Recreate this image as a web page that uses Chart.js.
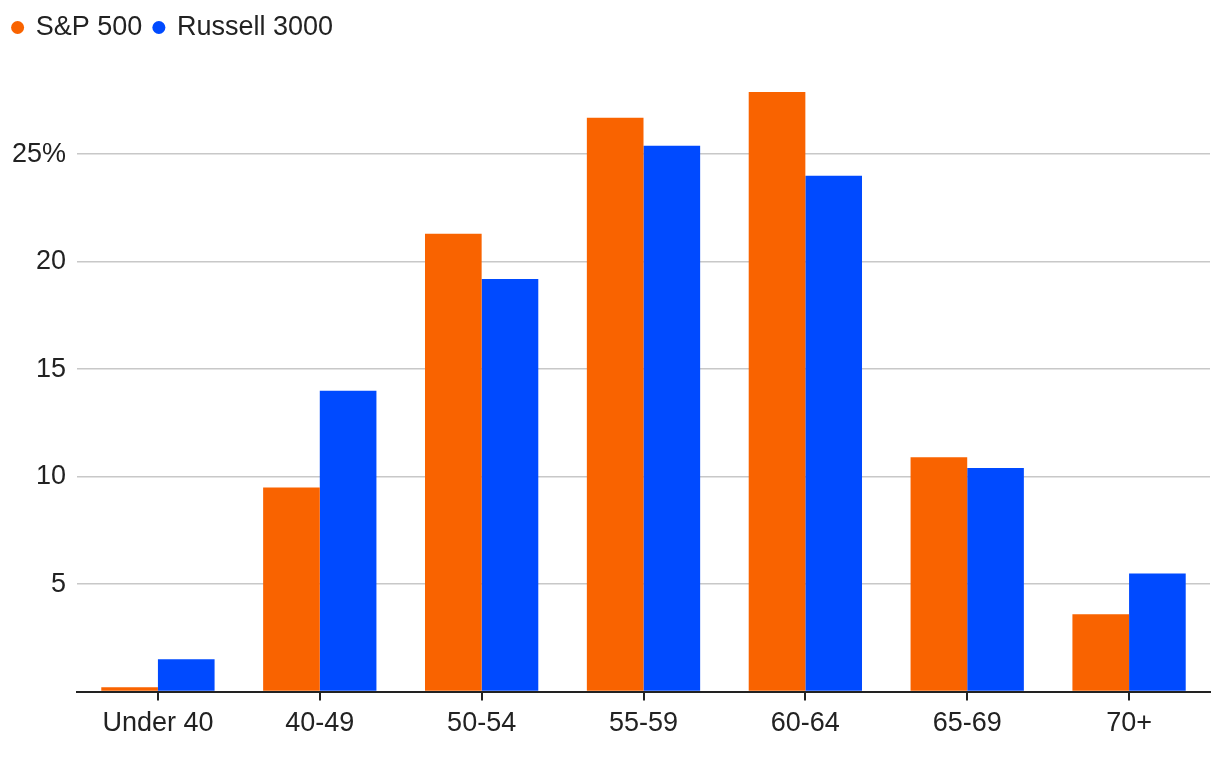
<!DOCTYPE html>
<html>
<head>
<meta charset="utf-8">
<script src="https://cdn.jsdelivr.net/npm/chart.js@4.4.0/dist/chart.umd.min.js"></script>
<style>
  html, body { margin: 0; padding: 0; background: #fff; }
  #wrap { width: 1220px; height: 760px; }
</style>
</head>
<body>
<div id="wrap"><canvas id="ageChart"></canvas></div>
<script>
// Age groups and share (%) of directors in each index
const ageGroups = ['Under 40', '40-49', '50-54', '55-59', '60-64', '65-69', '70+'];
const sp500 = [0.2, 9.5, 21.3, 26.7, 27.9, 10.9, 3.6];
const russell3000 = [1.5, 14.0, 19.2, 25.4, 24.0, 10.4, 5.5];
const yTickValues = [0, 5, 10, 15, 20, 25];
const yTickLabels = ['', '5', '10', '15', '20', '25%'];

const FONT = '"Liberation Sans", Arial, Helvetica, sans-serif';
const TEXT = '#222222';

// push the plot area down a bit below the legend
const legendGap = {
  id: 'legendGap',
  beforeInit(chart) {
    const fit = chart.legend.fit;
    chart.legend.fit = function () {
      fit.bind(chart.legend)();
      this.height += 28;
    };
  }
};

new Chart(document.getElementById('ageChart'), {
  type: 'bar',
  data: {
    labels: ageGroups,
    datasets: [
      {
        label: 'S&P 500',
        data: sp500,
        backgroundColor: '#f96300',
        categoryPercentage: 0.7,
        barPercentage: 1.0
      },
      {
        label: 'Russell 3000',
        data: russell3000,
        backgroundColor: '#004aff',
        categoryPercentage: 0.7,
        barPercentage: 1.0
      }
    ]
  },
  options: {
    responsive: true,
    maintainAspectRatio: false,
    animation: false,
    layout: {
      padding: { left: 1, right: 10, top: 2, bottom: 13 }
    },
    plugins: {
      legend: {
        position: 'top',
        align: 'start',
        labels: {
          usePointStyle: true,
          pointStyle: 'circle',
          boxWidth: 9.2,
          boxHeight: 9.2,
          padding: 12,
          color: TEXT,
          font: { family: FONT, size: 27 }
        }
      },
      tooltip: { enabled: false }
    },
    scales: {
      x: {
        grid: {
          display: true,
          drawOnChartArea: false,
          drawTicks: true,
          tickLength: 9,
          offset: false,
          color: TEXT,
          lineWidth: 2
        },
        border: { display: true, color: TEXT, width: 2 },
        ticks: {
          color: TEXT,
          padding: 7,
          font: { family: FONT, size: 27 }
        }
      },
      y: {
        min: 0,
        max: 28.5,
        afterBuildTicks: (scale) => {
          scale.ticks = yTickValues.map(v => ({ value: v }));
        },
        afterFit: (scale) => {
          scale.width = 76;
        },
        grid: {
          drawTicks: false,
          color: (ctx) => ctx.tick && ctx.tick.value === 0 ? 'rgba(0,0,0,0)' : '#c8c8c8',
          lineWidth: 1.5
        },
        border: { display: false },
        ticks: {
          color: TEXT,
          padding: 11,
          font: { family: FONT, size: 27 },
          callback: (value) => {
            const i = yTickValues.indexOf(value);
            return i >= 0 ? yTickLabels[i] : '';
          }
        }
      }
    }
  },
  plugins: [legendGap]
});
</script>
</body>
</html>
